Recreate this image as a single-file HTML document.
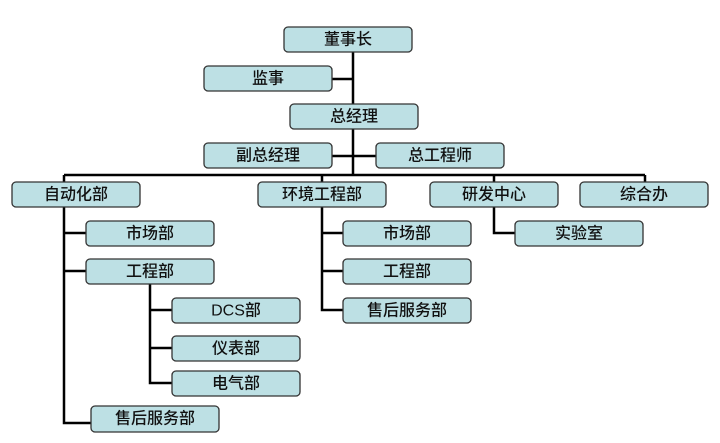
<!DOCTYPE html>
<html><head><meta charset="utf-8"><style>
html,body{margin:0;padding:0;background:#fff;}
svg text{font-family:"Liberation Sans","Noto Sans CJK SC",sans-serif;font-size:16px;font-weight:500;fill:#111;text-anchor:middle;dominant-baseline:central;}
</style></head><body>
<svg width="720" height="438" viewBox="0 0 720 438" xmlns="http://www.w3.org/2000/svg">
<g stroke="#000" stroke-width="2.5" fill="none">
<line x1="353" y1="52" x2="353" y2="175"/>
<line x1="332" y1="79" x2="353" y2="79"/>
<line x1="332" y1="156" x2="376" y2="156"/>
<line x1="64" y1="175" x2="645" y2="175"/>
<line x1="64" y1="175" x2="64" y2="182"/>
<line x1="322" y1="175" x2="322" y2="182"/>
<line x1="494" y1="175" x2="494" y2="182"/>
<line x1="645" y1="175" x2="645" y2="182"/>
<polyline points="64,207 64,423 91,423"/>
<line x1="64" y1="233" x2="86" y2="233"/>
<line x1="64" y1="271" x2="86" y2="271"/>
<polyline points="150,284 150,383 172,383"/>
<line x1="150" y1="310" x2="172" y2="310"/>
<line x1="150" y1="348" x2="172" y2="348"/>
<polyline points="322,207 322,310 343,310"/>
<line x1="322" y1="233" x2="343" y2="233"/>
<line x1="322" y1="271" x2="343" y2="271"/>
<polyline points="494,207 494,233 515,233"/>
</g>
<g fill="#bde0e4" stroke="#333" stroke-width="1.3">
<rect x="284" y="27" width="128" height="25" rx="4"/>
<rect x="204" y="66" width="128" height="25" rx="4"/>
<rect x="290" y="104" width="128" height="25" rx="4"/>
<rect x="204" y="143" width="128" height="25" rx="4"/>
<rect x="376" y="143" width="128" height="25" rx="4"/>
<rect x="12" y="182" width="128" height="25" rx="4"/>
<rect x="258" y="182" width="128" height="25" rx="4"/>
<rect x="430" y="182" width="128" height="25" rx="4"/>
<rect x="580" y="182" width="128" height="25" rx="4"/>
<rect x="86" y="221" width="128" height="25" rx="4"/>
<rect x="86" y="259" width="128" height="25" rx="4"/>
<rect x="172" y="298" width="128" height="25" rx="4"/>
<rect x="172" y="336" width="128" height="25" rx="4"/>
<rect x="172" y="371" width="128" height="25" rx="4"/>
<rect x="91" y="406" width="128" height="26" rx="4"/>
<rect x="343" y="221" width="128" height="25" rx="4"/>
<rect x="343" y="259" width="128" height="25" rx="4"/>
<rect x="343" y="298" width="128" height="25" rx="4"/>
<rect x="515" y="221" width="128" height="25" rx="4"/>
</g>
<text x="348" y="40">董事长</text>
<text x="268" y="79">监事</text>
<text x="354" y="117">总经理</text>
<text x="268" y="156">副总经理</text>
<text x="440" y="156">总工程师</text>
<text x="76" y="195">自动化部</text>
<text x="322" y="195">环境工程部</text>
<text x="494" y="195">研发中心</text>
<text x="644" y="195">综合办</text>
<text x="150" y="234">市场部</text>
<text x="150" y="272">工程部</text>
<text x="236" y="311">DCS部</text>
<text x="236" y="349">仪表部</text>
<text x="236" y="384">电气部</text>
<text x="155" y="419">售后服务部</text>
<text x="407" y="234">市场部</text>
<text x="407" y="272">工程部</text>
<text x="407" y="311">售后服务部</text>
<text x="579" y="234">实验室</text>
</svg>
</body></html>
